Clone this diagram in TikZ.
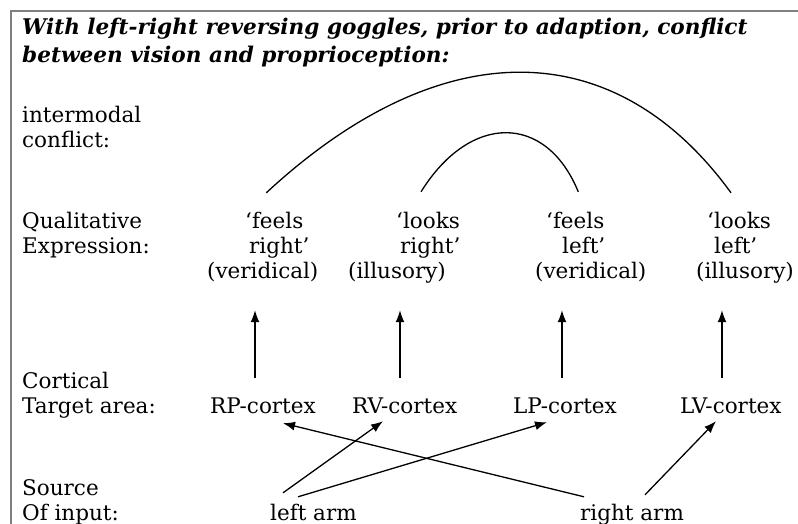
\documentclass[tikz,border=0pt]{standalone}
\usepackage{fontspec}
\setmainfont{DejaVu Serif}
\usetikzlibrary{arrows.meta,calc}
\tikzset{
  txt/.style={font=\fontsize{21.5}{25}\selectfont, inner sep=0pt, anchor=base west,
              text height=16pt, text depth=5pt},
  ttl/.style={font=\fontsize{21.6}{26}\selectfont\bfseries\itshape, inner sep=0pt, anchor=base west},
  arr/.style={line width=1.3pt, -{Latex[length=12pt,width=9pt]}},
  arc/.style={line width=1.3pt},
  frame/.style={line width=1.2pt, draw=black!50}
}
\begin{document}
\begin{tikzpicture}[x=1pt,y=-1pt]
\useasboundingbox (0,0) rectangle (798,524);
% open frame: top and left rules
\draw[frame] (11,524) -- (11,11) -- (798,11);

% heading
\node[ttl] (t1) at (22,35) {With left-right reversing goggles, prior to adaption, conflict};
\node[ttl] (t2) at (22,63) {between vision and proprioception:};

% row labels
\node[txt] (l1a) at (22,123) {intermodal};
\node[txt] (l1b) at (22,148) {conflict:};
\node[txt] (l2a) at (22,228) {Qualitative};
\node[txt] (l2b) at (22,253) {Expression:};
\node[txt] (l3a) at (22,388) {Cortical};
\node[txt] (l3b) at (22,413) {Target area:};
\node[txt] (l4a) at (22,495) {Source};
\node[txt] (l4b) at (22,520) {Of input:};

% qualitative expressions
\node[txt] (e1a) at (245,228) {‘feels};
\node[txt] (e1b) at (249,253) {right’};
\node[txt] (e1c) at (207,278) {(veridical)};
\node[txt] (e2a) at (396,228) {‘looks};
\node[txt] (e2b) at (400,253) {right’};
\node[txt] (e2c) at (348,278) {(illusory)};
\node[txt] (e3a) at (546,228) {‘feels};
\node[txt] (e3b) at (562,253) {left’};
\node[txt] (e3c) at (535,278) {(veridical)};
\node[txt] (e4a) at (707,228) {‘looks};
\node[txt] (e4b) at (714,253) {left’};
\node[txt] (e4c) at (696,278) {(illusory)};

% cortical target areas
\node[txt] (rp) at (210,413) {RP-cortex};
\node[txt] (rv) at (352,413) {RV-cortex};
\node[txt] (lp) at (513,413) {LP-cortex};
\node[txt] (lv) at (680,413) {LV-cortex};

% sources
\node[txt] (la) at (270,520) {left arm};
\node[txt] (ra) at (580,520) {right arm};

% intermodal conflict arcs
\draw[arc] ($(e1a.north)+(-8,-19)$)
  .. controls (440,32) and (614,32) .. ($(e4a.north)+(-8,-19)$);
\draw[arc] ($(e2a.north)+(-7,-20)$)
  .. controls (470,113) and (546,113) .. ($(e3a.north)+(3,-20)$);

% cortex to expression
\draw[arr] ($(rp.north west)+(45,-19)$) -- ($(e1c.south west)+(48,27)$);
\draw[arr] ($(rv.north west)+(48,-19)$) -- ($(e2c.south west)+(52,27)$);
\draw[arr] ($(lp.north west)+(49,-19)$) -- ($(e3c.south west)+(27,27)$);
\draw[arr] ($(lv.north west)+(42,-19)$) -- ($(e4c.south west)+(26,27)$);

% sources to cortex
\draw[arr] ($(la.north west)+(13,-11)$) -- ($(rv.south west)+(31,3)$);
\draw[arr] ($(la.north west)+(28,-7)$) -- ($(lp.south west)+(34,4)$);
\draw[arr] ($(ra.north west)+(4,-7)$) -- ($(rp.south west)+(73,5)$);
\draw[arr] ($(ra.north west)+(65,-9)$) -- ($(lv.south west)+(36,3)$);
\end{tikzpicture}
\end{document}
